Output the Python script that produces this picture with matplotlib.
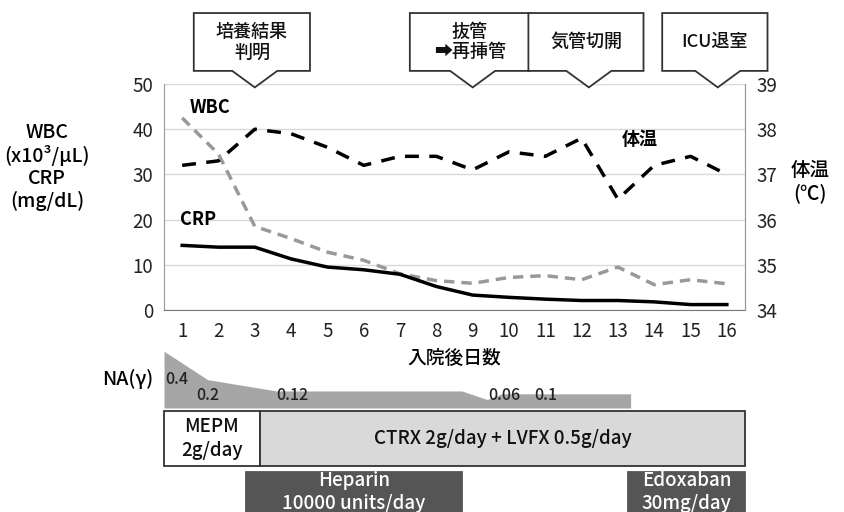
import matplotlib
matplotlib.use('Agg')
import matplotlib.pyplot as plt
from matplotlib.patches import Rectangle, Polygon

plt.rcParams['font.family'] = ['Noto Sans CJK JP', 'DejaVu Sans']

# data
days = list(range(1, 17))
wbc = [42.5, 34.5, 18.5, 15.8, 12.8, 11.0, 8.0, 6.5, 5.9, 7.2, 7.6, 6.7, 9.5, 5.6, 6.7, 5.8]
crp = [14.3, 13.9, 13.9, 11.3, 9.5, 8.9, 7.9, 5.2, 3.3, 2.8, 2.4, 2.1, 2.1, 1.8, 1.2, 1.2]
temp = [37.2, 37.3, 38.0, 37.9, 37.6, 37.2, 37.4, 37.4, 37.1, 37.5, 37.4, 37.8, 36.45, 37.2, 37.4, 37.0]

na_x = [0.5, 1.7, 3.6, 8.7, 9.4, 9.8, 13.35, 13.35]
na_val = [0.4, 0.2, 0.12, 0.12, 0.06, 0.1, 0.1, 0.0]
na_labels = ['0.4', '0.2', '0.12', '0.06', '0.1']
na_label_x = [0.53, 1.4, 3.58, 9.43, 10.7]
na_label_y = [0.2, 0.085, 0.085, 0.085, 0.085]

events = ['培養結果\n判明', '抜管\n➡再挿管', '気管切開', 'ICU退室']
event_day = [3.0, 9.0, 12.2, 15.75]
event_width = [3.2, 3.3, 3.17, 2.9]

drugs = ['MEPM\n2g/day', 'CTRX 2g/day + LVFX 0.5g/day', 'Heparin\n10000 units/day', 'Edoxaban\n30mg/day']
drug_start = [0.5, 3.14, 2.76, 13.28]
drug_end = [3.14, 16.5, 8.7, 16.5]
drug_row = [0, 0, 1, 1]
drug_face = ['white', '#d9d9d9', '#555555', '#555555']
drug_text = ['#111111', '#111111', 'white', 'white']

W, H = 845, 512
fig = plt.figure(figsize=(W / 100, H / 100), dpi=100)

def box(l, t, r, b):
    return [l / W, 1 - b / H, (r - l) / W, (b - t) / H]

ax = fig.add_axes(box(164, 84, 745, 310))
ax.set_xlim(0.5, 16.5)
ax.set_ylim(0, 50)
ax.set_yticks(range(0, 51, 10))
ax.set_xticks(days)
ax.grid(axis='y', color='#d9d9d9', lw=1)
ax.set_axisbelow(True)
ax.spines['top'].set_visible(False)
ax.spines['left'].set_color('#999999')
ax.spines['right'].set_color('#999999')
ax.spines['bottom'].set_color('#777777')
ax.tick_params(length=0, labelsize=13.5, colors='#222222', pad=8)

ax.plot(days, wbc, color='#999999', lw=2.5, dashes=(3, 2))
ax.plot(days, crp, color='black', lw=2.5)

ax2 = ax.twinx()
ax2.set_ylim(34, 39)
ax2.set_yticks(range(34, 40))
ax2.tick_params(length=0, labelsize=13.5, colors='#222222', pad=8)
for s in ['top', 'left', 'bottom']:
    ax2.spines[s].set_visible(False)
ax2.spines['right'].set_color('#999999')
ax2.plot(days, temp, color='black', lw=2.5, dashes=(4, 3))

ax.text(1.22, 44.7, 'WBC', fontsize=13, fontweight='bold', va='center')
ax.text(0.95, 20, 'CRP', fontsize=13, fontweight='bold', va='center')
ax2.text(13.1, 37.77, '体温', fontsize=13, fontweight='bold', va='center')

ax.set_xlabel('入院後日数', fontsize=13.5, fontweight='medium', labelpad=5)

fig.text(47 / W, 1 - 167 / H, 'WBC\n(x10³/μL)\nCRP\n(mg/dL)', ha='center', va='center',
         fontsize=14, linespacing=1.2, fontweight='medium')
fig.text(810 / W, 1 - 182 / H, '体温\n(℃)', ha='center', va='center',
         fontsize=14, linespacing=1.2, fontweight='medium')

# callouts at the top
tr = ax.get_xaxis_transform()
y_top, y_bot, y_tip = 1.314, 1.058, 0.985
for label, d, w in zip(events, event_day, event_width):
    cx = d - 0.08
    l, r = cx - w / 2, cx + w / 2
    hw = 0.62
    pts = [(l, y_top), (r, y_top), (r, y_bot), (d + hw, y_bot), (d, y_tip),
           (d - hw, y_bot), (l, y_bot)]
    ax.add_patch(Polygon(pts, closed=True, transform=tr, facecolor='white',
                         edgecolor='#333333', lw=1.3, clip_on=False, zorder=5))
    ax.text(cx, (y_top + y_bot) / 2, label, transform=tr, ha='center', va='center',
            fontsize=13, fontweight='medium', linespacing=1.2, zorder=6, color='#111111')

# NA area
axn = fig.add_axes(box(164, 345, 745, 408))
axn.set_xlim(0.5, 16.5)
axn.set_ylim(0, 0.444)
axn.fill_between(na_x, na_val, color='#a6a6a6', lw=0)
axn.axis('off')
for t, x, y in zip(na_labels, na_label_x, na_label_y):
    axn.text(x, y, t, fontsize=11.5, va='center', ha='left', color='#222222',
             fontweight='medium')
fig.text(153 / W, 1 - 379 / H, 'NA(γ)', ha='right', va='center', fontsize=14,
         fontweight='medium')

# treatment bars
axb = fig.add_axes(box(164, 408, 745, 512))
axb.set_xlim(0.5, 16.5)
axb.set_ylim(104, 0)
axb.axis('off')
row_top = [3, 64]
row_h = [55, 60]
for name, s, e, r, fc, tc in zip(drugs, drug_start, drug_end, drug_row, drug_face, drug_text):
    axb.add_patch(Rectangle((s, row_top[r]), e - s, row_h[r], facecolor=fc,
                            edgecolor='#333333' if r == 0 else fc, lw=1.3, clip_on=False))
    ty = row_top[r] + (row_h[r] / 2 if r == 0 else 20)
    axb.text((s + e) / 2, ty, name, ha='center', va='center', fontsize=13.5,
             fontweight='medium', color=tc, linespacing=1.3)

fig.savefig('out.png', dpi=100, facecolor='white')
